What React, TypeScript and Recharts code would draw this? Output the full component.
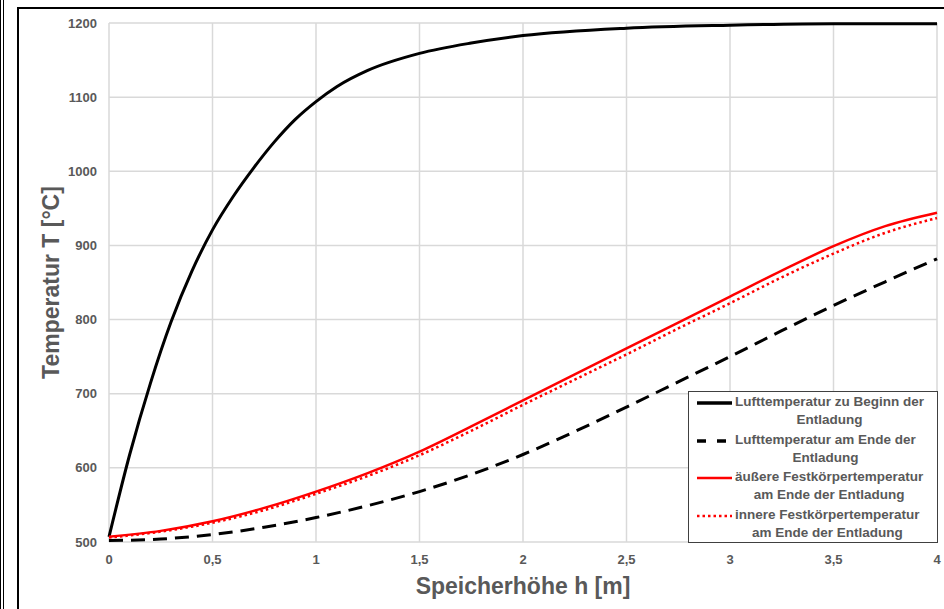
import React from "react";
import {
  LineChart,
  Line,
  XAxis,
  YAxis,
  CartesianGrid,
} from "recharts";

// Speicherhöhe h [m] – finer steps for the steep start curve
const hFine = [0, 0.1, 0.2, 0.3, 0.4, 0.5, 0.6, 0.7, 0.8, 0.9, 1, 1.1, 1.25, 1.5, 1.75, 2, 2.5, 3, 3.5, 4];
const airStart = [507, 618, 714, 797, 865, 921, 966, 1005, 1040, 1070, 1094, 1114, 1136, 1159, 1173, 1183, 1193, 1197, 1199, 1199];

const h = [0, 0.25, 0.5, 0.75, 1, 1.25, 1.5, 1.75, 2, 2.25, 2.5, 2.75, 3, 3.25, 3.5, 3.75, 4];
const airEnd = [502, 504, 510, 520, 533, 549, 568, 591, 618, 649, 682, 716, 750, 785, 819, 851, 882];
const solidOuter = [507, 515, 528, 546, 568, 593, 622, 656, 691, 726, 761, 796, 831, 866, 899, 926, 944];
const solidInner = [506, 514, 526, 543, 565, 589, 617, 650, 685, 719, 753, 788, 822, 857, 889, 917, 937];

const xTicks = [0, 0.5, 1, 1.5, 2, 2.5, 3, 3.5, 4];
const yTicks = [500, 600, 700, 800, 900, 1000, 1100, 1200];

const startData = hFine.map((x, i) => ({ h: x, v: airStart[i] }));
const endData = h.map((x, i) => ({
  h: x,
  airEnd: airEnd[i],
  outer: solidOuter[i],
  inner: solidInner[i],
}));

const legendItems = [
  { l1: "Lufttemperatur zu Beginn der", l2: "Entladung", color: "#000", dash: undefined, w: 3.5 },
  { l1: "Lufttemperatur am Ende der", l2: "Entladung", color: "#000", dash: "9 11", w: 3.5 },
  { l1: "äußere Festkörpertemperatur", l2: "am Ende der Entladung", color: "#ff0000", dash: undefined, w: 2.5 },
  { l1: "innere Festkörpertemperatur", l2: "am Ende der Entladung", color: "#ff0000", dash: "2.5 3", w: 2.5 },
];

const font = "'Liberation Sans', Arial, sans-serif";
const gray = "#595959";

const LegendBox = () => (
  <div
    style={{
      position: "absolute",
      left: 688,
      top: 391,
      width: 250,
      height: 152,
      border: "1.5px solid #404040",
      background: "#fff",
      fontFamily: font,
      fontWeight: "bold",
      fontSize: 13.5,
      color: gray,
      boxSizing: "border-box",
      paddingTop: 1,
      whiteSpace: "nowrap",
    }}
  >
    {legendItems.map((it) => (
      <div key={it.l1} style={{ display: "flex", height: 37.5 }}>
        <svg width={40} height={20} style={{ flex: "none", marginLeft: 6 }}>
          <line x1={2} x2={37} y1={10} y2={10} stroke={it.color} strokeWidth={it.w} strokeDasharray={it.dash} />
        </svg>
        <div style={{ textAlign: "center", lineHeight: "18px" }}>
          {it.l1}
          <br />
          {it.l2}
        </div>
      </div>
    ))}
  </div>
);

export default function App() {
  return (
    <div style={{ position: "absolute", left: 0, top: 0, width: 944, height: 609, background: "#fff", overflow: "hidden" }}>
      <div style={{ position: "absolute", left: 0, top: 0, width: 1, height: 609, background: "#000" }} />
      <div style={{ position: "absolute", left: 3, top: 0, width: 1, height: 609, background: "#000" }} />
      <div
        style={{
          position: "absolute",
          left: 17,
          top: 7,
          width: 940,
          height: 620,
          border: "2px solid #000",
          boxSizing: "border-box",
        }}
      />
      <div style={{ position: "absolute", left: 0, top: 0 }}>
        <LineChart width={944} height={609} margin={{ top: 23, right: 7, bottom: 37, left: 49 }}>
          <CartesianGrid stroke="#d9d9d9" strokeWidth={1.5} />
          <XAxis
            type="number"
            dataKey="h"
            domain={[0, 4]}
            ticks={xTicks}
            tickFormatter={(v: number) => String(v).replace(".", ",")}
            axisLine={false}
            tickLine={false}
            tickSize={0}
            tickMargin={13}
            height={30}
            tick={{ fill: gray, fontSize: 13, fontWeight: "bold", fontFamily: font }}
            label={{
              value: "Speicherhöhe h [m]",
              position: "insideBottom",
              offset: -22,
              fill: gray,
              fontSize: 23,
              fontWeight: "bold",
              fontFamily: font,
            }}
            allowDuplicatedCategory={false}
          />
          <YAxis
            type="number"
            domain={[500, 1200]}
            ticks={yTicks}
            axisLine={false}
            tickLine={false}
            tickSize={0}
            tickMargin={12}
            width={60}
            tick={{ fill: gray, fontSize: 13, fontWeight: "bold", fontFamily: font }}
            label={{
              value: "Temperatur T [°C]",
              angle: -90,
              position: "insideLeft",
              dx: -3,
              fill: gray,
              fontSize: 23,
              fontWeight: "bold",
              fontFamily: font,
              style: { textAnchor: "middle" },
            }}
          />
          <Line
            data={startData}
            dataKey="v"
            type="monotone"
            stroke="#000"
            strokeWidth={3}
            dot={false}
            isAnimationActive={false}
          />
          <Line
            data={endData}
            dataKey="airEnd"
            type="monotone"
            stroke="#000"
            strokeWidth={3}
            strokeDasharray="14 8"
            dot={false}
            isAnimationActive={false}
          />
          <Line
            data={endData}
            dataKey="outer"
            type="monotone"
            stroke="#ff0000"
            strokeWidth={2.5}
            dot={false}
            isAnimationActive={false}
          />
          <Line
            data={endData}
            dataKey="inner"
            type="monotone"
            stroke="#ff0000"
            strokeWidth={2.5}
            strokeDasharray="2.5 3"
            dot={false}
            isAnimationActive={false}
          />
        </LineChart>
      </div>
      <LegendBox />
    </div>
  );
}
